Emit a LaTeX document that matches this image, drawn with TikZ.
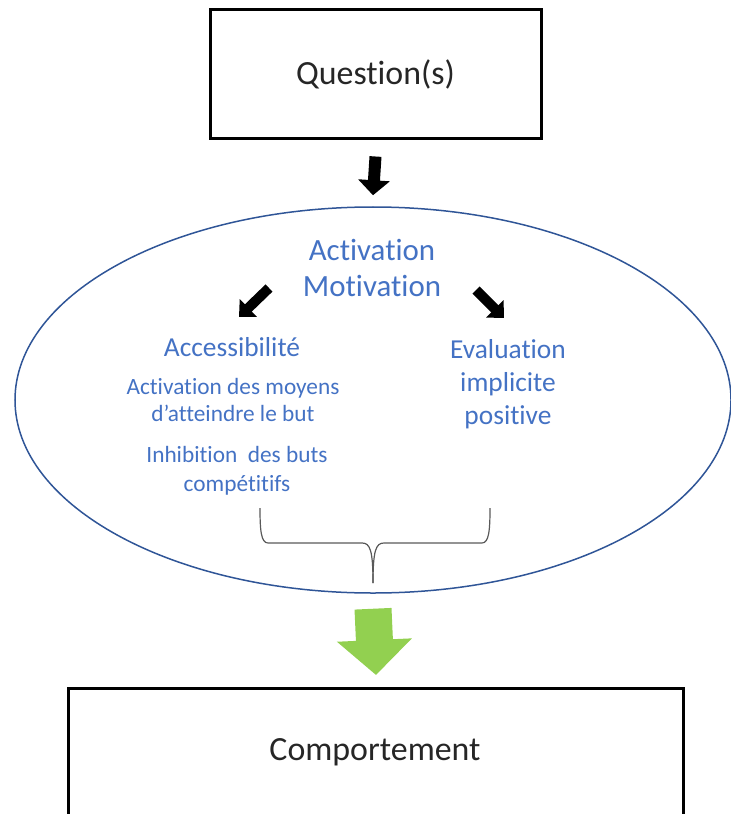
\documentclass[tikz,border=0pt]{standalone}
\usepackage{fontspec}
\setmainfont{Carlito}[RawFeature=-liga]
\usetikzlibrary{shapes.geometric,arrows.meta}
\definecolor{txtblue}{HTML}{4472C4}
\definecolor{ellblue}{HTML}{2F5597}
\definecolor{arrgreen}{HTML}{92D050}
\tikzset{
  bigbox/.style={draw=black, line width=3bp, inner sep=0pt, font=\fontsize{34}{40}\selectfont, text=black!85},
  bluetxt/.style={text=txtblue, align=center, inner sep=0pt},
  blackarrow/.style={line width=12bp, black, -{Triangle[length=15bp,width=31bp]}},
  smallarrow/.style={line width=10bp, black, -{Triangle[length=13bp,width=24bp]}},
  greenarrow/.style={line width=37bp, arrgreen, -{Triangle[length=35bp,width=73bp]}},
  bracestyle/.style={draw=black!65, line width=1.2bp}
}
\begin{document}
\begin{tikzpicture}[x=1bp,y=-1bp]
\useasboundingbox (0,0) rectangle (731,814);
\node[bigbox, minimum width=331bp, minimum height=128bp] (q) at (375.5,74) {Question(s)};
\node[ellipse, draw=ellblue, line width=1.5bp, minimum width=716bp, minimum height=386bp, inner sep=0pt] (ell) at (373,400) {};
\node[bigbox, minimum width=614bp, minimum height=140bp, anchor=north] (comp) at (376,687) {};
\node[text=black!85, font=\fontsize{34}{40}\selectfont] (comptxt) at (375,752) {Comportement};

\node[bluetxt, font=\fontsize{31}{36}\selectfont] (act) at (372,268) {Activation\\Motivation};
\node[bluetxt, font=\fontsize{27.5}{30}\selectfont] (acc) at (232,347) {Accessibilité};
\node[bluetxt, font=\fontsize{23.4}{28}\selectfont] (moy) at (233,400) {Activation des moyens\\d’atteindre le but};
\node[bluetxt, font=\fontsize{23.4}{29}\selectfont] (inh) at (237,471) {Inhibition~ des buts\\compétitifs};
\node[bluetxt, font=\fontsize{27.5}{33}\selectfont] (eval) at (508,384) {Evaluation\\implicite\\positive};

\draw[blackarrow] ([yshift=-17bp]q.south) -- ([yshift=11bp]ell.north);
\coordinate (la1) at (269,288);
\coordinate (la2) at (239,317);
\coordinate (ra1) at (476,290);
\coordinate (ra2) at (504,318);
\draw[smallarrow] (la1) -- (la2);
\draw[smallarrow] (ra1) -- (ra2);
\draw[greenarrow] ([yshift=-15bp]ell.south) -- ([yshift=12bp]comp.north);

\coordinate (bl) at (260,508);
\coordinate (br) at (490,508);
\coordinate (bc) at (373,583);
\draw[bracestyle] (bl) .. controls (260,530) and (261,543) .. (268,543) -- (362,543) .. controls (370,543) and (373,550) .. (bc);
\draw[bracestyle] (br) .. controls (490,530) and (489,543) .. (482,543) -- (384,543) .. controls (376,543) and (373,550) .. (bc);
\end{tikzpicture}
\end{document}
